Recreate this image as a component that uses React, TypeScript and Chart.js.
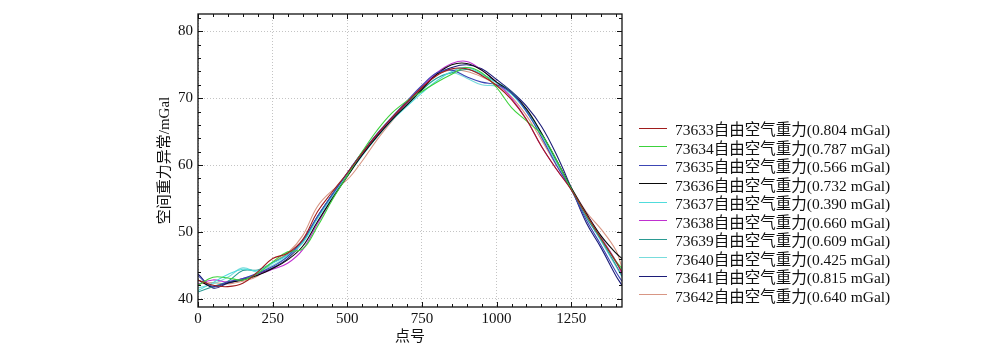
import React, { useEffect, useRef } from "react";
import { Chart, registerables } from "chart.js";

Chart.register(...registerables);

// ---- data ----
const pointNumbers = [0, 50, 100, 150, 200, 250, 300, 350, 400, 450, 500, 550, 600, 650, 700, 750, 800, 850, 900, 950, 1000, 1050, 1100, 1150, 1200, 1250, 1300, 1350, 1400, 1420];

const seriesNames = ["73633自由空气重力", "73634自由空气重力", "73635自由空气重力", "73636自由空气重力", "73637自由空气重力", "73638自由空气重力", "73639自由空气重力", "73640自由空气重力", "73641自由空气重力", "73642自由空气重力"];
const rmsValues = ["0.804", "0.787", "0.566", "0.732", "0.390", "0.660", "0.609", "0.425", "0.815", "0.640"];

const s73633 = [42.8, 42.0, 41.8, 42.3, 44.0, 46.0, 46.8, 48.8, 53.0, 56.0, 58.8, 61.8, 64.6, 67.1, 69.4, 71.6, 73.4, 74.4, 74.4, 73.4, 71.9, 69.8, 66.8, 62.8, 59.4, 56.3, 52.6, 49.0, 45.5, 44.0];
const s73634 = [42.0, 43.2, 43.1, 42.8, 43.8, 45.5, 47.0, 47.4, 50.8, 54.8, 58.4, 62.0, 65.2, 67.8, 69.6, 71.0, 72.4, 73.6, 74.6, 73.8, 71.6, 68.6, 66.6, 64.6, 60.8, 56.4, 52.6, 49.0, 45.6, 44.5];
const s73635 = [43.4, 41.8, 42.5, 43.0, 43.8, 44.8, 46.3, 48.7, 52.3, 55.6, 58.8, 61.9, 64.7, 67.2, 69.6, 71.9, 73.8, 74.2, 73.2, 72.4, 72.0, 70.8, 68.0, 64.2, 60.0, 56.3, 51.8, 48.0, 44.0, 42.6];
const s73636 = [42.8, 41.8, 42.4, 42.8, 43.5, 44.5, 45.8, 47.8, 51.5, 55.0, 58.3, 61.5, 64.3, 66.8, 69.0, 71.3, 73.6, 75.0, 75.2, 74.2, 72.4, 70.8, 68.4, 64.8, 60.8, 56.6, 52.8, 49.4, 46.8, 46.0];
const s73637 = [41.2, 42.4, 43.6, 44.4, 44.2, 45.3, 46.5, 48.3, 52.0, 55.3, 58.4, 61.4, 64.2, 66.7, 68.8, 70.8, 72.6, 74.0, 74.6, 73.6, 72.3, 70.6, 68.0, 64.6, 60.6, 56.6, 52.6, 49.0, 45.4, 44.2];
const s73638 = [42.2, 42.8, 42.5, 43.0, 43.6, 44.4, 45.3, 47.3, 51.2, 55.0, 58.4, 61.6, 64.4, 67.0, 69.4, 71.7, 73.8, 75.2, 75.5, 74.2, 72.4, 70.0, 66.8, 62.8, 59.4, 56.4, 52.8, 49.2, 45.6, 43.6];
const s73639 = [41.0, 41.8, 42.6, 44.2, 44.3, 45.4, 46.6, 48.5, 52.2, 55.6, 58.7, 61.6, 64.3, 66.8, 68.9, 71.2, 73.0, 73.8, 74.3, 73.6, 72.4, 70.9, 68.2, 64.8, 60.6, 56.4, 52.2, 48.8, 45.0, 43.4];
const s73640 = [41.6, 42.2, 43.2, 44.6, 44.0, 45.0, 46.3, 48.4, 52.1, 55.4, 58.6, 61.6, 64.3, 66.8, 69.0, 71.3, 73.0, 73.8, 73.0, 72.0, 71.8, 70.6, 68.0, 64.4, 60.4, 56.5, 52.4, 48.6, 44.8, 43.2];
const s73641 = [43.7, 41.6, 42.3, 42.9, 43.7, 44.6, 46.0, 48.4, 52.3, 55.6, 58.8, 61.9, 64.6, 67.0, 69.3, 71.6, 73.6, 74.6, 75.0, 74.4, 72.8, 71.0, 68.8, 65.8, 61.6, 56.6, 51.4, 47.6, 43.4, 42.0];
const s73642 = [42.2, 42.4, 42.2, 42.6, 43.4, 45.4, 46.8, 49.4, 53.8, 56.2, 57.8, 60.6, 63.8, 66.6, 69.2, 71.8, 73.6, 74.2, 74.0, 73.2, 72.0, 70.2, 67.4, 63.8, 60.0, 56.6, 53.0, 50.4, 47.2, 44.6];

const seriesValues = [s73633, s73634, s73635, s73636, s73637, s73638, s73639, s73640, s73641, s73642];

const xTitle = "点号";
const yTitle = "空间重力异常/mGal";

// ---- styles ----
const lineColors = ["#A01C1C", "#3CD23C", "#3C46B4", "#0A0A0A", "#50DCDC", "#C030D0", "#2A9A92", "#78DCDC", "#1C1C78", "#D89684"];
const FONT = '"Liberation Serif", "Noto Sans CJK SC", serif';

const framePlugin = {
  id: "frameTicks",
  afterDatasetsDraw(chart: any) {
    const { ctx, chartArea, scales } = chart;
    const { left, right, top, bottom } = chartArea;
    const xs = scales.x;
    const ys = scales.y;
    ctx.save();
    ctx.strokeStyle = "#111";
    ctx.lineWidth = 1;
    ctx.beginPath();
    for (let v = 0; v <= xs.max; v += 50) {
      const px = Math.round(xs.getPixelForValue(v)) + 0.5;
      const len = v % 250 === 0 ? 5 : 3;
      ctx.moveTo(px, bottom);
      ctx.lineTo(px, bottom - len);
      ctx.moveTo(px, top);
      ctx.lineTo(px, top + len);
    }
    for (let v = 40; v <= ys.max; v += 2) {
      const py = Math.round(ys.getPixelForValue(v)) + 0.5;
      const len = v % 10 === 0 ? 5 : 3;
      ctx.moveTo(left, py);
      ctx.lineTo(left + len, py);
      ctx.moveTo(right, py);
      ctx.lineTo(right - len, py);
    }
    ctx.stroke();
    ctx.lineWidth = 1.3;
    ctx.strokeRect(left, top, right - left, bottom - top);
    ctx.restore();
  },
};

export default function App() {
  const canvasRef = useRef<HTMLCanvasElement | null>(null);

  useEffect(() => {
    const canvas = canvasRef.current;
    if (!canvas) return;
    const chart = new Chart(canvas, {
      type: "line",
      data: {
        datasets: seriesValues.map((vals, i) => ({
          label: `${seriesNames[i]}(${rmsValues[i]} mGal)`,
          data: pointNumbers.map((x, j) => ({ x, y: vals[j] })),
          borderColor: lineColors[i],
          backgroundColor: lineColors[i],
          borderWidth: 1.1,
          pointRadius: 0,
          tension: 0.4,
          fill: false,
        })),
      },
      options: {
        responsive: false,
        animation: false,
        devicePixelRatio: 1,
        layout: { padding: { left: 0, top: 12, right: 378, bottom: 0 } },
        plugins: {
          legend: { display: false },
          tooltip: { enabled: false },
        },
        scales: {
          x: {
            type: "linear",
            min: 0,
            max: 1420,
            afterFit: (s: any) => { s.height = 46; },
            ticks: {
              stepSize: 250,
              includeBounds: false,
              color: "#111",
              padding: 3,
              maxRotation: 0,
              font: { family: FONT, size: 15 },
              callback: (v: any) => String(v),
            },
            grid: {
              display: true,
              drawTicks: false,
              color: "#c4c4c4",
              lineWidth: 1,
            },
            border: { display: false, dash: [1, 2] },
            title: {
              display: true,
              text: xTitle,
              color: "#111",
              font: { family: FONT, size: 15 },
              padding: { top: 0, bottom: 7 },
            },
          },
          y: {
            type: "linear",
            min: 38.75,
            max: 82.6,
            afterFit: (s: any) => { s.width = 198; },
            ticks: {
              stepSize: 10,
              includeBounds: false,
              color: "#111",
              padding: 5,
              font: { family: FONT, size: 15 },
              callback: (v: any) => String(v),
            },
            grid: {
              display: true,
              drawTicks: false,
              color: "#c4c4c4",
              lineWidth: 1,
            },
            border: { display: false, dash: [1, 2] },
            title: {
              display: true,
              text: yTitle,
              color: "#111",
              font: { family: FONT, size: 15 },
              padding: { top: 156, bottom: 0 },
            },
          },
        },
      },
      plugins: [framePlugin],
    } as any);
    return () => chart.destroy();
  }, []);

  return (
    <div style={{ position: "fixed", left: 0, top: 0, width: 1000, height: 353, background: "#fff" }}>
      <canvas ref={canvasRef} width={1000} height={353} style={{ width: 1000, height: 353, display: "block" }} />
      {seriesNames.map((name, i) => (
        <div
          key={name}
          style={{
            position: "absolute",
            left: 639,
            top: 128.3 + i * 18.52 - 10,
            height: 20,
            display: "flex",
            alignItems: "center",
            fontFamily: FONT,
            fontSize: 15.5,
            color: "#111",
            whiteSpace: "nowrap",
          }}
        >
          <span style={{ display: "inline-block", width: 28, height: 0, borderTop: `1.5px solid ${lineColors[i]}`, marginRight: 8 }} />
          <span>{`${name}(${rmsValues[i]} mGal)`}</span>
        </div>
      ))}
    </div>
  );
}
